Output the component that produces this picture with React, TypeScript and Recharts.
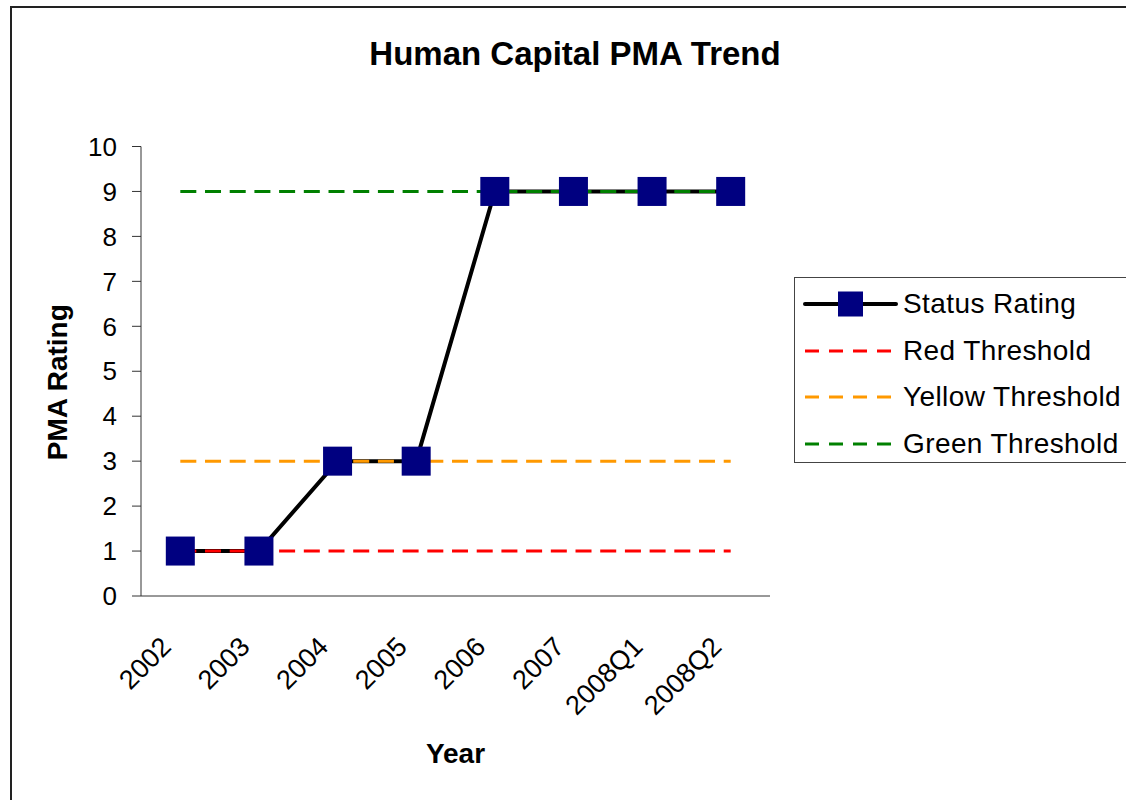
import { LineChart, Line, XAxis, YAxis, Legend, Label } from 'recharts';

const FONT = '"Liberation Sans", Arial, sans-serif';

const years = ['2002', '2003', '2004', '2005', '2006', '2007', '2008Q1', '2008Q2'];
const statusRating = [1, 1, 3, 3, 9, 9, 9, 9];
const redThreshold = [1, 1, 1, 1, 1, 1, 1, 1];
const yellowThreshold = [3, 3, 3, 3, 3, 3, 3, 3];
const greenThreshold = [9, 9, 9, 9, 9, 9, 9, 9];
const yTicks = [0, 1, 2, 3, 4, 5, 6, 7, 8, 9, 10];
const yDomain = [0, 10];
const boundaryTicks = [0, 1, 2, 3, 4, 5, 6, 7, 8];
const boundaryDomain = [0, 8];

const legendItems = [
  { name: 'Status Rating', color: '#000000', dashed: false },
  { name: 'Red Threshold', color: '#ff0000', dashed: true },
  { name: 'Yellow Threshold', color: '#ff9900', dashed: true },
  { name: 'Green Threshold', color: '#008000', dashed: true },
];

const data = years.map((year, i) => ({
  year,
  status: statusRating[i],
  red: redThreshold[i],
  yellow: yellowThreshold[i],
  green: greenThreshold[i],
}));

const SquareDot = (props: any) => {
  const { cx, cy, key } = props;
  if (cx == null || cy == null) return null;
  return <rect key={key} x={cx - 14.5} y={cy - 14.5} width={29} height={29} fill="#000080" />;
};

const YearTick = (props: any) => {
  const { x, y, payload } = props;
  const tx = x - 21;
  return (
    <text
      x={tx}
      y={y}
      dy={19}
      transform={`rotate(-45 ${tx} ${y})`}
      textAnchor="end"
      fontSize={27}
      fontFamily={FONT}
      fill="#000"
    >
      {payload.value}
    </text>
  );
};

const yearTick = <YearTick />;

function LegendBox() {
  return (
    <div
      style={{
        width: 340,
        height: 186,
        border: '1px solid #444',
        background: '#fff',
        boxSizing: 'border-box',
        paddingTop: 3,
        fontFamily: FONT,
        fontSize: 28,
        letterSpacing: 0.4,
      }}
    >
      {legendItems.map((item) => (
        <div key={item.name} style={{ display: 'flex', alignItems: 'center', height: 46.5 }}>
          <svg width={100} height={30} style={{ marginLeft: 8 }}>
            {item.dashed ? (
              <line x1={2} x2={93} y1={15} y2={15} stroke={item.color} strokeWidth={3} strokeDasharray="14 10" />
            ) : (
              <>
                <line x1={2} x2={93} y1={15} y2={15} stroke="#000" strokeWidth={4} strokeLinecap="round" />
                <rect x={35} y={2.5} width={25} height={25} fill="#000080" />
              </>
            )}
          </svg>
          <span style={{ color: '#000', whiteSpace: 'nowrap' }}>{item.name}</span>
        </div>
      ))}
    </div>
  );
}

export default function App() {
  return (
    <div
      style={{
        position: 'absolute',
        left: 0,
        top: 0,
        width: 1126,
        height: 800,
        overflow: 'hidden',
        background: '#fff',
      }}
    >
      <div
        style={{
          position: 'absolute',
          left: 10,
          top: 6,
          width: 1130,
          height: 810,
          border: '2px solid #222',
        }}
      />
      <LineChart
        width={1126}
        height={800}
        data={data}
        margin={{ top: 146.5, right: 356, bottom: 0, left: 0 }}
        style={{ position: 'absolute', left: 0, top: 0 }}
      >
        <text x={575} y={65} textAnchor="middle" fontSize={33} fontWeight="bold" fontFamily={FONT} fill="#000">
          Human Capital PMA Trend
        </text>
        {/* boundary tick marks between categories */}
        <XAxis
          xAxisId={0}
          type="number"
          domain={boundaryDomain}
          ticks={boundaryTicks}
          allowDataOverflow
          tick={false}
          tickSize={9}
          height={10}
          stroke="#333"
        />
        <XAxis
          xAxisId={1}
          dataKey="year"
          scale="band"
          axisLine={false}
          tickLine={false}
          tickSize={0}
          tickMargin={29}
          height={194}
          interval={0}
          tick={yearTick}
        >
          <Label
            content={() => (
              <text
                x={455.5}
                y={762.5}
                textAnchor="middle"
                fontSize={28}
                fontWeight="bold"
                fontFamily={FONT}
                fill="#000"
              >
                Year
              </text>
            )}
          />
        </XAxis>
        <YAxis
          domain={yDomain}
          ticks={yTicks}
          width={141}
          tickSize={9}
          tickMargin={15}
          stroke="#333"
          tick={{ fontSize: 26, fontFamily: FONT, fill: '#000' }}
        >
          <Label
            content={({ viewBox }: any) => (
              <text
                x={67}
                y={viewBox.y + viewBox.height / 2 + 11}
                transform={`rotate(-90 67 ${viewBox.y + viewBox.height / 2 + 11})`}
                textAnchor="middle"
                fontSize={28}
                fontWeight="bold"
                fontFamily={FONT}
                fill="#000"
              >
                PMA Rating
              </text>
            )}
          />
        </YAxis>
        <Line
          xAxisId={1}
          dataKey="status"
          name="Status Rating"
          stroke="#000"
          strokeWidth={4}
          dot={false}
          legendType="none"
          isAnimationActive={false}
        />
        <Line
          xAxisId={1}
          dataKey="red"
          name="Red Threshold"
          stroke="#ff0000"
          strokeWidth={3}
          strokeDasharray="16 8.7"
          dot={false}
          isAnimationActive={false}
        />
        <Line
          xAxisId={1}
          dataKey="yellow"
          name="Yellow Threshold"
          stroke="#ff9900"
          strokeWidth={3}
          strokeDasharray="16 8.7"
          dot={false}
          isAnimationActive={false}
        />
        <Line
          xAxisId={1}
          dataKey="green"
          name="Green Threshold"
          stroke="#008000"
          strokeWidth={3}
          strokeDasharray="16 8.7"
          dot={false}
          isAnimationActive={false}
        />
        <Line
          xAxisId={1}
          dataKey="status"
          name="Status Rating"
          stroke="none"
          dot={<SquareDot />}
          activeDot={false}
          isAnimationActive={false}
        />
        <Legend
          layout="vertical"
          align="center"
          verticalAlign="middle"
          content={<LegendBox />}
          wrapperStyle={{ left: 794, top: 277, width: 340 }}
        />
      </LineChart>
    </div>
  );
}
